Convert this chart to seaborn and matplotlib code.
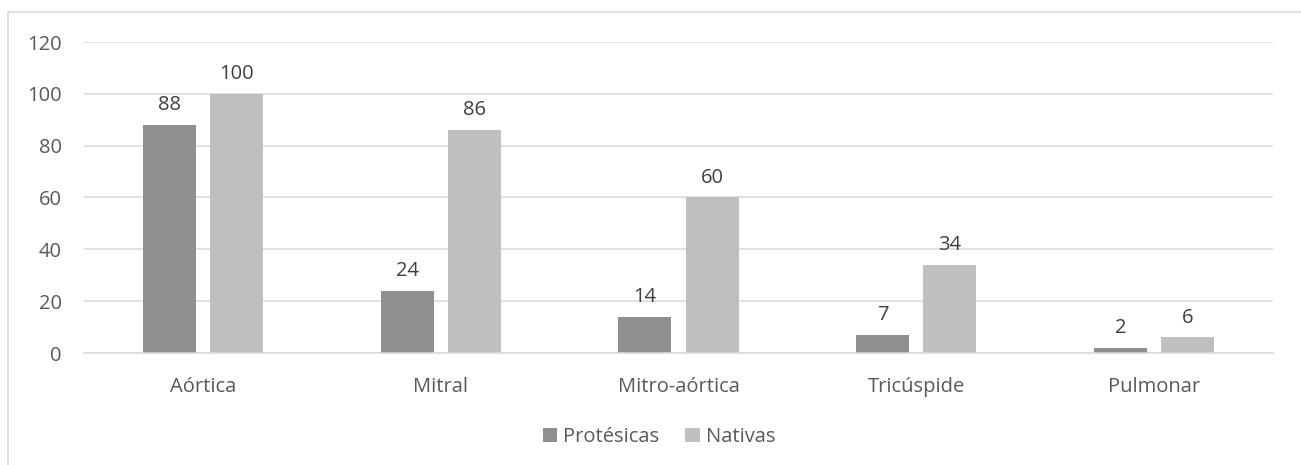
import matplotlib
matplotlib.use("Agg")
import matplotlib.pyplot as plt
import seaborn as sns
import pandas as pd
from matplotlib.lines import Line2D

categories = ["Aórtica", "Mitral", "Mitro-aórtica", "Tricúspide", "Pulmonar"]
protesicas = [88, 24, 14, 7, 2]
nativas = [100, 86, 60, 34, 6]
series_names = ["Protésicas", "Nativas"]
yticks = [0, 20, 40, 60, 80, 100, 120]

df = pd.DataFrame({
    "cat": categories * 2,
    "val": protesicas + nativas,
    "serie": [series_names[0]] * len(categories) + [series_names[1]] * len(categories),
})

sns.set_theme(style="white")
plt.rcParams["font.family"] = ["Open Sans", "DejaVu Sans"]

FS = 14.5
fig = plt.figure(figsize=(13.01, 4.65), dpi=100)
ax = fig.add_axes([84/1301, 112/465, (1273-84)/1301, (353-42)/465])

palette = {"Protésicas": "#8f8f8f", "Nativas": "#bfbfbf"}
sns.barplot(data=df, x="cat", y="val", hue="serie", order=categories,
            hue_order=series_names, palette=palette, width=0.564, gap=0.209,
            saturation=1, ax=ax, legend=True, linewidth=0)

ax.set_ylim(0, 120)
ax.set_yticks(yticks)
ax.set_xlim(-0.5, len(categories) - 0.5)
ax.yaxis.grid(True, color="#d9d9d9", linewidth=1.1)
ax.set_axisbelow(True)
for s in ["top", "right", "left"]:
    ax.spines[s].set_visible(False)
ax.spines["bottom"].set_color("#d9d9d9")
ax.spines["bottom"].set_linewidth(1.1)
ax.tick_params(axis="both", length=0, colors="#595959", labelsize=FS)
ax.tick_params(axis="y", pad=16)
ax.tick_params(axis="x", pad=17)
ax.set_xlabel("")
ax.set_ylabel("")

for cont in ax.containers:
    ax.bar_label(cont, padding=7, color="#404040", fontsize=FS)

handles, labels = ax.get_legend_handles_labels()
ax.get_legend().remove()
fig.legend(handles, labels, loc="center", bbox_to_anchor=(659/1301, 1 - 437/465),
           ncol=2, frameon=False, fontsize=FS, labelcolor="#595959",
           handlelength=0.7, handleheight=0.7, handletextpad=0.3,
           columnspacing=1.3)

# chart-area border (top and left visible)
fig.add_artist(Line2D([8/1301, 1], [1 - 12/465, 1 - 12/465], color="#d9d9d9",
                      linewidth=1.2, transform=fig.transFigure))
fig.add_artist(Line2D([8/1301, 8/1301], [0, 1 - 12/465], color="#d9d9d9",
                      linewidth=1.2, transform=fig.transFigure))

fig.savefig("out.png", dpi=100)
